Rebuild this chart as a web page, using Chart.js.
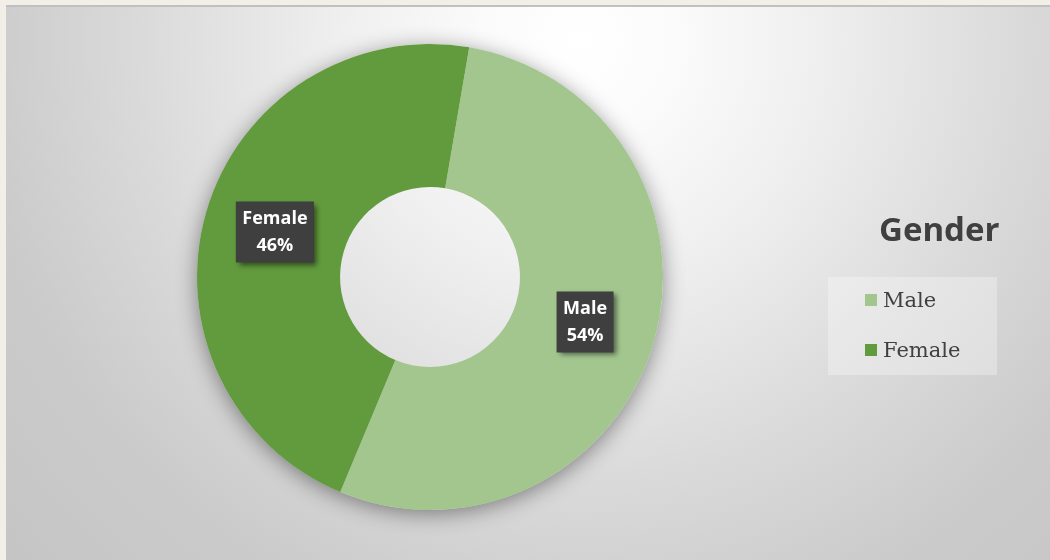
<!DOCTYPE html>
<html>
<head>
<meta charset="utf-8">
<script src="https://cdn.jsdelivr.net/npm/chart.js@4/dist/chart.umd.min.js"></script>
<style>
  html, body { margin: 0; padding: 0; background: #f2efe8; }
  canvas { display: block; }
</style>
</head>
<body>
<canvas id="gender-chart" width="1050" height="560"></canvas>
<script>
// data
const genders = ["Male", "Female"];
const shares = [53.6, 46.4];
const sliceColors = ["#a3c68f", "#629b3e"];
const chartTitle = "Gender";

var canvas = document.getElementById("gender-chart");

// page frame + soft radial backdrop
const backdrop = {
  id: "backdrop",
  beforeDraw(chart) {
    const ctx = chart.ctx;
    ctx.save();
    ctx.fillStyle = "#f2efe8";
    ctx.fillRect(0, 0, chart.width, chart.height);
    const g = ctx.createRadialGradient(580, 40, 0, 580, 40, 800);
    g.addColorStop(0, "#ffffff");
    g.addColorStop(0.12, "#fbfbfb");
    g.addColorStop(0.3, "#efefef");
    g.addColorStop(0.55, "#dadada");
    g.addColorStop(0.75, "#cbcbcb");
    g.addColorStop(1, "#c4c4c4");
    ctx.fillStyle = g;
    ctx.fillRect(6, 5, chart.width - 6, chart.height - 5);
    ctx.fillStyle = "#c0c0c0";
    ctx.fillRect(6, 5, chart.width - 6, 2);
    ctx.restore();
  }
};

// shadow under the ring, kept outside of it
const ringShadow = {
  id: "ringShadow",
  beforeDatasetsDraw(chart) {
    const arc = chart.getDatasetMeta(0).data[0];
    if (!arc) return;
    const ctx = chart.ctx;
    ctx.save();
    ctx.beginPath();
    ctx.rect(0, 0, chart.width, chart.height);
    ctx.arc(arc.x, arc.y, arc.outerRadius, 0, Math.PI * 2, true);
    ctx.clip("evenodd");
    ctx.shadowColor = "rgba(0,0,0,0.45)";
    ctx.shadowBlur = 22;
    ctx.shadowOffsetY = 4;
    ctx.fillStyle = "#888";
    ctx.beginPath();
    ctx.arc(arc.x, arc.y, arc.outerRadius - 1, 0, Math.PI * 2);
    ctx.fill();
    ctx.restore();
  }
};

// dark label boxes with name + percent
const sliceLabels = {
  id: "sliceLabels",
  afterDatasetsDraw(chart) {
    const ctx = chart.ctx;
    const ds = chart.data.datasets[0];
    const total = ds.data.reduce((a, b) => a + b, 0);
    chart.getDatasetMeta(0).data.forEach((arc, i) => {
      const p = arc.tooltipPosition();
      const l1 = chart.data.labels[i];
      const l2 = Math.round(ds.data[i] / total * 100) + "%";
      ctx.save();
      ctx.font = "bold 18px 'Open Sans'";
      const w = Math.max(ctx.measureText(l1).width, ctx.measureText(l2).width) + 13;
      const h = 61;
      ctx.shadowColor = "rgba(0,0,0,0.5)";
      ctx.shadowBlur = 5;
      ctx.shadowOffsetX = 3;
      ctx.shadowOffsetY = 3;
      ctx.fillStyle = "#3f3f3f";
      ctx.fillRect(p.x - w / 2, p.y - h / 2, w, h);
      ctx.shadowColor = "transparent";
      ctx.fillStyle = "#ffffff";
      ctx.textAlign = "center";
      ctx.textBaseline = "middle";
      ctx.fillText(l1, p.x, p.y - 13);
      ctx.fillText(l2, p.x, p.y + 14);
      ctx.restore();
    });
  }
};

// title and boxed legend on the right
const sideLegend = {
  id: "sideLegend",
  afterDraw(chart) {
    const ctx = chart.ctx;
    const ds = chart.data.datasets[0];
    ctx.save();
    ctx.fillStyle = "#404040";
    ctx.font = "bold 33px 'Open Sans'";
    ctx.textAlign = "left";
    ctx.textBaseline = "alphabetic";
    ctx.fillText(chartTitle, 879, 241);

    ctx.fillStyle = "rgba(255,255,255,0.3)";
    ctx.fillRect(828, 277, 169, 98);

    ctx.font = "21px 'DejaVu Serif'";
    ctx.textBaseline = "middle";
    chart.data.labels.forEach((lab, i) => {
      const y = 300 + i * 50;
      ctx.fillStyle = ds.backgroundColor[i];
      ctx.fillRect(865, y - 6, 12, 12);
      ctx.fillStyle = "#404040";
      ctx.fillText(lab, 883, y + 2);
    });
    ctx.restore();
  }
};

const genderChart = new Chart(canvas, {
  type: "doughnut",
  data: {
    labels: genders,
    datasets: [{
      data: shares,
      backgroundColor: sliceColors,
      borderWidth: 0,
      hoverOffset: 0
    }]
  },
  options: {
    responsive: false,
    animation: false,
    rotation: 9.7,
    cutout: "38.6%",
    layout: {
      padding: { left: 197, right: 387, top: 44, bottom: 50 }
    },
    plugins: {
      legend: { display: false },
      tooltip: { enabled: false }
    }
  },
  plugins: [backdrop, ringShadow, sliceLabels, sideLegend]
});
</script>
</body>
</html>
